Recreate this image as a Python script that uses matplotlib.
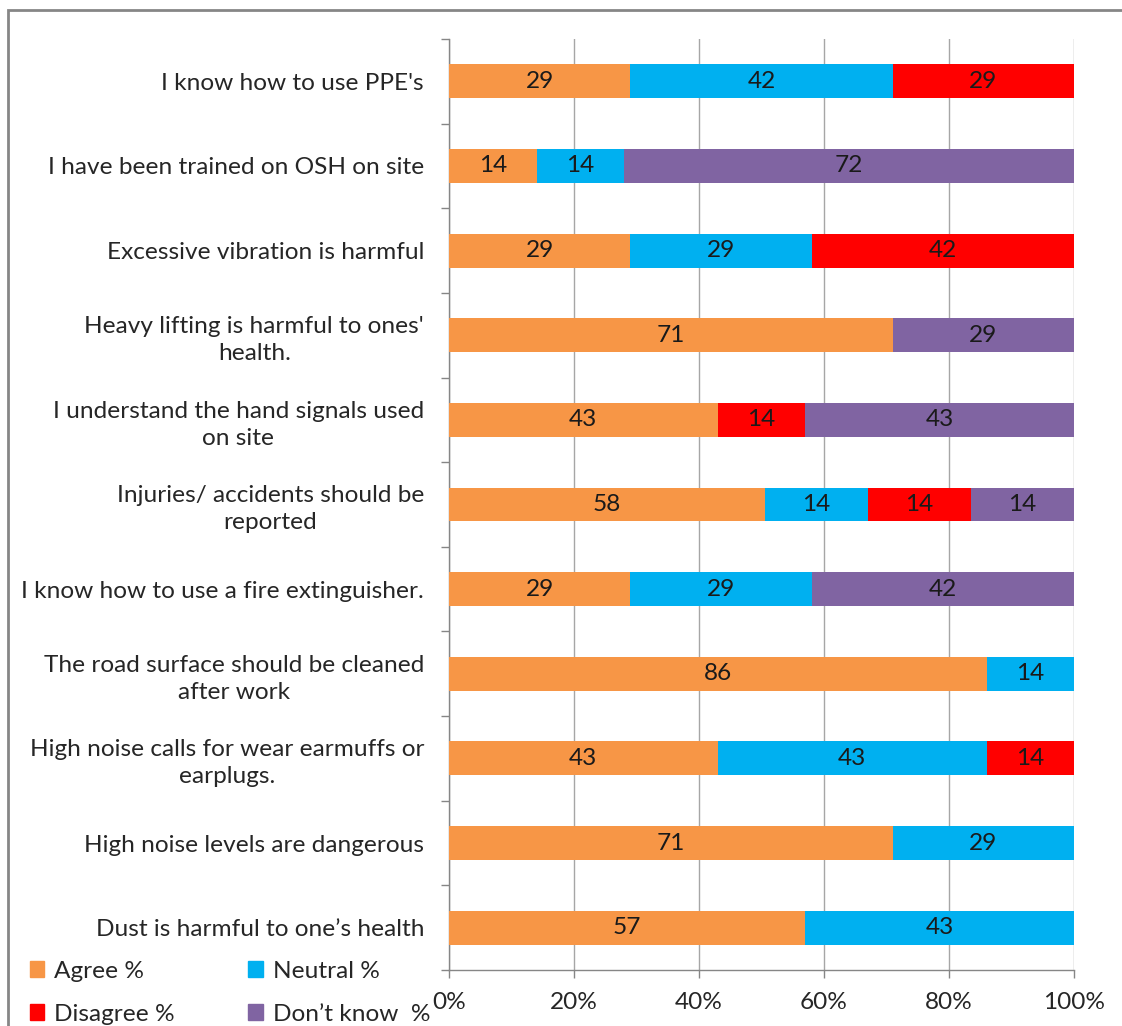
import matplotlib.pyplot as plt
import numpy as np
from matplotlib.patches import Rectangle, Patch

plt.rcParams['font.family'] = ['Lato', 'DejaVu Sans']

# categories, top to bottom
categories = [
    "I know how to use PPE's",
    "I have been trained on OSH on site",
    "Excessive vibration is harmful",
    "Heavy lifting is harmful to ones'\nhealth.",
    "I understand the hand signals used\non site",
    "Injuries/ accidents should be\nreported",
    "I know how to use a fire extinguisher.",
    "The road surface should be cleaned\nafter work",
    "High noise calls for wear earmuffs or\nearplugs.",
    "High noise levels are dangerous",
    "Dust is harmful to one\u2019s health",
]

series = ["Agree %", "Neutral %", "Disagree %", "Don\u2019t know  %"]
colors = ["#F79646", "#00B0F0", "#FF0000", "#8064A2"]

agree    = [29, 14, 29, 71, 43, 43, 29, 86, 43, 71, 57]
neutral  = [42, 14, 29, 0, 0, 14, 29, 14, 43, 29, 43]
disagree = [29, 0, 42, 0, 14, 14, 0, 0, 14, 0, 0]
dontknow = [0, 72, 0, 29, 43, 14, 42, 0, 0, 0, 0]

# printed labels (the injuries agree bar is labelled 58 in the source)
agree_text = ["29", "14", "29", "71", "43", "58", "29", "86", "43", "71", "57"]

xticks = [0, 20, 40, 60, 80, 100]
xtick_labels = ["0%", "20%", "40%", "60%", "80%", "100%"]

FS = 17.6

data = np.array([agree, neutral, disagree, dontknow], dtype=float)
totals = data.sum(axis=0)
pct = data / totals * 100

fig = plt.figure(figsize=(11.22, 10.26), dpi=100)
ax = fig.add_axes([449/1122, 1 - 970/1026, 625/1122, 931/1026])

y = np.arange(len(categories))
left = np.zeros(len(categories))
for i, (name, col) in enumerate(zip(series, colors)):
    ax.barh(y, pct[i], left=left, height=0.4, color=col, label=name, zorder=3)
    for j in range(len(categories)):
        if data[i][j] > 0:
            txt = agree_text[j] if i == 0 else str(int(data[i][j]))
            ax.text(left[j] + pct[i][j] / 2, y[j], txt, ha='center', va='center',
                    fontsize=FS, color='#1a1a1a', zorder=4)
    left += pct[i]

ax.set_xlim(0, 100)
ax.set_ylim(len(categories) - 0.5, -0.5)
ax.set_xticks(xticks)
ax.set_xticklabels(xtick_labels, fontsize=FS, color='#262626')
ax.set_yticks(y)
ax.set_yticklabels(categories, fontsize=FS, color='#262626',
                   multialignment='center', linespacing=1.35)
ax.set_yticks(np.arange(len(categories) + 1) - 0.5, minor=True)
ax.tick_params(axis='y', which='major', length=0, pad=18)
ax.tick_params(axis='y', which='minor', length=6, color='#868686', width=1)
ax.tick_params(axis='x', length=6, color='#868686', width=1, pad=10)
ax.grid(axis='x', color='#a6a6a6', linewidth=1, zorder=0)
for s in ['top', 'right']:
    ax.spines[s].set_visible(False)
for s in ['left', 'bottom']:
    ax.spines[s].set_color('#868686')
    ax.spines[s].set_linewidth(1)

handles = [Patch(color=c) for c in colors]
order = [0, 2, 1, 3]
fig.legend([handles[k] for k in order], [series[k] for k in order], ncol=2,
           loc='upper left', bbox_to_anchor=(20/1122, 1 - 951/1026),
           borderaxespad=0, frameon=False, fontsize=FS, handlelength=0.6,
           handleheight=0.6, handletextpad=0.4, columnspacing=3.0,
           labelspacing=0.9, labelcolor='#262626')

# outer frame
fig.patches.append(Rectangle((8/1122, -0.1), 1.2, 1.1 - 10/1026, transform=fig.transFigure,
                             fill=False, edgecolor='#868686', linewidth=2))

fig.savefig('out.png', dpi=100)
